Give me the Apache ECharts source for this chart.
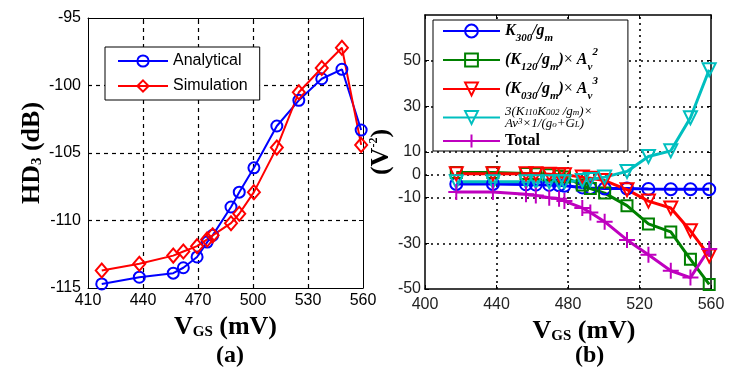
<!DOCTYPE html>
<html>
<head>
<meta charset="utf-8">
<script src="https://cdn.jsdelivr.net/npm/echarts@6/dist/echarts.min.js"></script>
<style>
  html, body { margin: 0; padding: 0; background: #fff; }
  #chart { width: 748px; height: 380px; }
</style>
</head>
<body>
<div id="chart"></div>
<script>
// V_GS sweep (mV), shared by both panels
const vgs = [417.5, 438, 456.5, 462, 469.5, 475, 478, 488, 492.5, 500.5, 513, 525, 537.5, 548.5, 559]

// (a) HD3 in dB
const hd3Analytical = [-114.7, -114.2, -113.9, -113.5, -112.7, -111.6, -111.1, -109.0, -107.9, -106.1, -103.0, -101.1, -99.5, -98.8, -103.3]
const hd3Simulation = [-113.7, -113.2, -112.6, -112.3, -111.9, -111.4, -111.1, -110.2, -109.5, -107.9, -104.6, -100.5, -98.7, -97.2, -104.4]

// (b) contributions (V^-2)
const k300 = [-4, -4, -4.2, -4.3, -4.4, -4.6, -4.8, -5.5, -5.8, -6, -6, -6.2, -6.3, -6.3, -6.3]
const k120 = [1, 1, 0.6, 0.5, 0, -0.5, -1, -4.5, -6, -8, -13.5, -21.5, -25, -37, -48]
const k030 = [0.5, 0.5, 0.5, 0.5, 0.3, 0, 0, -1, -1.5, -2.5, -6.5, -11.5, -14.5, -24.5, -35.5]
const k110k002 = [-3, -3, -3, -3, -3, -3, -3, -2.5, -2, -1, 1.5, 8, 10.5, 25, 46]
const total = [-7.5, -7.5, -8.5, -9, -10, -10.5, -11.5, -14.5, -16.5, -20.5, -28.5, -35, -42, -45, -32.5]

// axis ranges
const xRangeA = [410, 560]
const yRangeA = [-115, -95]
const xRangeB = [400, 560]
const yRangeB = [-50, 70]

// tick labels of panel (b) y axis (not evenly spaced)
const yTicksB = [-50, -30, -10, 0, 10, 30, 50]

// inner grid lines
const gridXA = [440, 470, 500, 530]
const gridYA = [-110, -105, -100]
const gridXB = [440, 480, 520]
const gridYB = [-30, -10, 0, 10, 30, 50]

const serif = 'Liberation Serif'
const sans = 'Liberation Sans'

function pairs(ys) {
  return vgs.map((x, i) => [x, ys[i]])
}

const subStyle = { fontFamily: serif, fontWeight: 'bold', fontSize: 15, verticalAlign: 'bottom', lineHeight: 26 }
const supStyle = { fontFamily: serif, fontWeight: 'bold', fontSize: 12, verticalAlign: 'top', lineHeight: 26 }

// legend labels of panel (b), with sub/superscripts
const legendRich = {
  'K300/gm': '{k|K}{s|300}{k|/g}{s|m}',
  'K120': '{k|(K}{s|120}{k|/g}{s|m}{k|)}{x|×}{k| A}{s|v}{p|2}',
  'K030': '{k|(K}{s|030}{k|/g}{s|m}{k|)}{x|×}{k| A}{s|v}{p|3}',
  'K110K002': '{t|3(K}{ts|110}{t|K}{ts|002}{t| /g}{ts|m}{t|)×}\n{t|Av}{tp|3}{t|×1/(g}{ts|o}{t|+G}{ts|L}{t|)}',
  'Total': '{b|Total}',
}

function lineSeries(name, data, color, symbol, size, xi, yi, width, rotate) {
  return {
    name,
    type: 'line',
    xAxisIndex: xi,
    yAxisIndex: yi,
    data: pairs(data),
    symbol,
    symbolSize: size,
    symbolRotate: rotate || 0,
    showSymbol: true,
    lineStyle: { color, width },
    itemStyle: { color: 'rgba(0,0,0,0)', borderColor: color, borderWidth: 2 },
    emphasis: { disabled: true },
    z: 3,
  }
}

// grid lines as a 'lines' series in the grid's own coordinates
function gridSeries(idx, xs, ys, xr, yr, dash, width) {
  const data = xs.map((v) => ({ coords: [[v, yr[0]], [v, yr[1]]] }))
    .concat(ys.map((v) => ({ coords: [[xr[0], v], [xr[1], v]] })))
  return {
    type: 'lines',
    coordinateSystem: 'cartesian2d',
    xAxisIndex: idx,
    yAxisIndex: idx,
    data,
    silent: true,
    z: 2,
    lineStyle: { color: '#000000', type: dash, width, opacity: 1 },
    emphasis: { disabled: true },
  }
}

// plain axis on the opposite side, only line + inner ticks (box look)
function frameAxis(gridIndex, position, range, interval, lw, custom) {
  const ax = {
    gridIndex,
    type: 'value',
    position,
    min: range[0],
    max: range[1],
    interval,
    axisLine: { show: true, onZero: false, lineStyle: { color: '#000', width: lw } },
    axisTick: { show: true, inside: true, length: 4, lineStyle: { color: '#000' } },
    axisLabel: { show: false },
    splitLine: { show: false },
  }
  if (custom) {
    ax.axisTick.customValues = custom
    ax.axisLabel.customValues = custom
  }
  return ax
}

const option = {
  animation: false,
  backgroundColor: '#fff',
  title: [
    { text: '(a)', left: 211, top: 339, textStyle: { fontFamily: serif, fontWeight: 'bold', fontSize: 24, color: '#000' } },
    { text: '(b)', left: 570, top: 339, textStyle: { fontFamily: serif, fontWeight: 'bold', fontSize: 24, color: '#000' } },
  ],
  grid: [
    { left: 88, top: 18, width: 275, height: 270 },
    { left: 425, top: 15, width: 286, height: 274 },
  ],
  legend: [
    {
      data: ['Analytical', 'Simulation'],
      orient: 'vertical',
      left: 105,
      top: 47,
      padding: [6, 12, 6, 12],
      itemGap: 9,
      itemWidth: 50,
      itemHeight: 14,
      backgroundColor: '#fff',
      borderColor: '#000',
      borderWidth: 1,
      borderRadius: 0,
      z: 6,
      textStyle: { fontFamily: sans, fontSize: 16, color: '#000', lineHeight: 16 },
    },
    {
      data: ['K300/gm', 'K120', 'K030', 'K110K002', 'Total'],
      orient: 'vertical',
      left: 433,
      top: 20,
      padding: [3, 30, 2, 9],
      itemGap: 3,
      itemWidth: 57,
      itemHeight: 16,
      backgroundColor: '#fff',
      borderColor: '#000',
      borderWidth: 1,
      borderRadius: 0,
      z: 6,
      formatter: (name) => legendRich[name],
      textStyle: {
        color: '#000',
        rich: {
          k: { fontFamily: serif, fontStyle: 'italic', fontWeight: 'bold', fontSize: 16, lineHeight: 26 },
          x: { fontFamily: serif, fontSize: 16, lineHeight: 26 },
          s: { fontFamily: serif, fontStyle: 'italic', fontWeight: 'bold', fontSize: 11, verticalAlign: 'bottom', lineHeight: 20 },
          p: { fontFamily: serif, fontStyle: 'italic', fontWeight: 'bold', fontSize: 11, verticalAlign: 'top', lineHeight: 20 },
          t: { fontFamily: serif, fontStyle: 'italic', fontSize: 13, lineHeight: 12 },
          ts: { fontFamily: serif, fontStyle: 'italic', fontSize: 9, verticalAlign: 'bottom', lineHeight: 9 },
          tp: { fontFamily: serif, fontStyle: 'italic', fontSize: 9, verticalAlign: 'top', lineHeight: 9 },
          b: { fontFamily: serif, fontWeight: 'bold', fontSize: 16, lineHeight: 26 },
        },
      },
    },
  ],
  xAxis: [
    {
      gridIndex: 0,
      type: 'value',
      position: 'bottom',
      min: xRangeA[0],
      max: xRangeA[1],
      interval: 30,
      name: 'V{sub|GS} (mV)',
      nameLocation: 'middle',
      nameGap: 22,
      nameTextStyle: {
        fontFamily: serif, fontWeight: 'bold', fontSize: 26, color: '#000',
        rich: { sub: subStyle },
      },
      axisLine: { onZero: false, lineStyle: { color: '#000', width: 1 } },
      axisTick: { inside: true, length: 4, lineStyle: { color: '#000' } },
      axisLabel: { fontFamily: sans, fontSize: 16, color: '#000', margin: 5 },
      splitLine: { show: false },
    },
    {
      gridIndex: 1,
      type: 'value',
      position: 'bottom',
      min: xRangeB[0],
      max: xRangeB[1],
      interval: 40,
      name: 'V{sub|GS} (mV)',
      nameLocation: 'middle',
      nameGap: 24,
      nameTextStyle: {
        fontFamily: serif, fontWeight: 'bold', fontSize: 26, color: '#000',
        padding: [0, 0, 0, 32],
        rich: { sub: subStyle },
      },
      axisLine: { onZero: false, lineStyle: { color: '#000', width: 1.5 } },
      axisTick: { inside: true, length: 4, lineStyle: { color: '#000' } },
      axisLabel: { fontFamily: sans, fontSize: 16, color: '#222', margin: 8 },
      splitLine: { show: false },
    },
    frameAxis(0, 'top', xRangeA, 30, 1),
    frameAxis(1, 'top', xRangeB, 40, 1.5),
  ],
  yAxis: [
    {
      gridIndex: 0,
      type: 'value',
      position: 'left',
      min: yRangeA[0],
      max: yRangeA[1],
      interval: 5,
      name: 'HD{sub|3} (dB)',
      nameLocation: 'middle',
      nameRotate: 90,
      nameGap: 34,
      nameTextStyle: {
        fontFamily: serif, fontWeight: 'bold', fontSize: 26, color: '#000',
        rich: { sub: subStyle },
      },
      axisLine: { show: true, onZero: false, lineStyle: { color: '#000', width: 1 } },
      axisTick: { show: true, inside: true, length: 4, lineStyle: { color: '#000' } },
      axisLabel: { fontFamily: sans, fontSize: 16, color: '#000', margin: 7 },
      splitLine: { show: false },
    },
    {
      gridIndex: 1,
      type: 'value',
      position: 'left',
      min: yRangeB[0],
      max: yRangeB[1],
      interval: 10,
      name: '(V{sup|-2})',
      nameLocation: 'middle',
      nameRotate: 90,
      nameGap: 24,
      nameTextStyle: {
        fontFamily: serif, fontWeight: 'bold', fontSize: 26, color: '#000',
        rich: { sup: supStyle },
      },
      axisLine: { show: true, onZero: false, lineStyle: { color: '#000', width: 1.5 } },
      axisTick: { show: true, inside: true, length: 4, customValues: yTicksB, lineStyle: { color: '#000' } },
      axisLabel: { fontFamily: sans, fontSize: 16, color: '#222', margin: 4, customValues: yTicksB },
      splitLine: { show: false },
    },
    frameAxis(0, 'right', yRangeA, 5, 1),
    frameAxis(1, 'right', yRangeB, 10, 1.5, yTicksB),
  ],
  series: [
    gridSeries(0, gridXA, gridYA, xRangeA, yRangeA, [4, 4], 1.2),
    gridSeries(1, gridXB, gridYB, xRangeB, yRangeB, [2, 4], 1.6),
    lineSeries('Analytical', hd3Analytical, '#0000ff', 'circle', 11, 0, 0, 2),
    lineSeries('Simulation', hd3Simulation, '#ff0000', 'diamond', [12, 14], 0, 0, 2),
    lineSeries('K300/gm', k300, '#0000ff', 'circle', 12, 1, 1, 3),
    lineSeries('K120', k120, '#008000', 'rect', 11, 1, 1, 3),
    lineSeries('K030', k030, '#ff0000', 'triangle', 13, 1, 1, 3, 180),
    lineSeries('K110K002', k110k002, '#00bfbf', 'triangle', 13, 1, 1, 3, 180),
    lineSeries('Total', total, '#bf00bf', 'path://M5,0L5,10M0,5L10,5', 16, 1, 1, 3),
  ],
}

const chart = echarts.init(document.getElementById('chart'))
chart.setOption(option)
window.addEventListener('resize', () => chart.resize())
</script>
</body>
</html>
